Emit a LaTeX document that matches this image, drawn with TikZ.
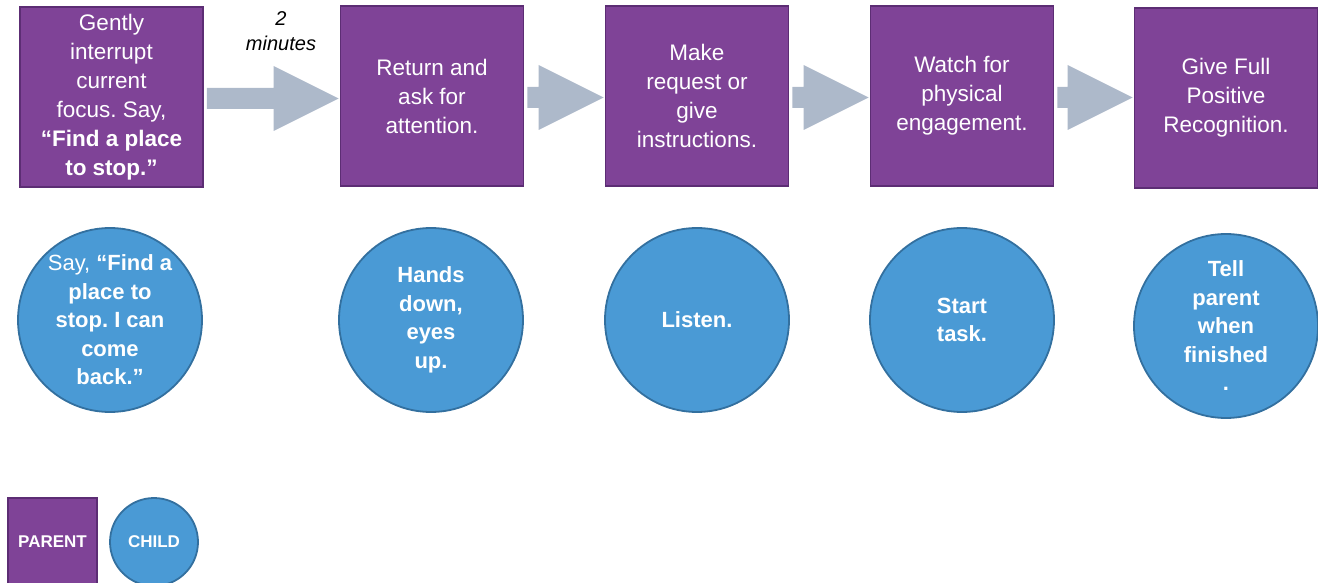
\documentclass[tikz,border=0pt]{standalone}
\usepackage{fontspec}
\setmainfont{Liberation Sans}
\usetikzlibrary{calc}
\frenchspacing
\definecolor{parentfill}{HTML}{7F4397}
\definecolor{parentline}{HTML}{5C2D74}
\definecolor{childfill}{HTML}{4A9AD5}
\definecolor{childline}{HTML}{33709F}
\definecolor{arrowgray}{HTML}{ADB9CA}
\tikzset{
  parentbox/.style={draw=parentline, fill=parentfill, line width=1.8pt,
    minimum width=183pt, minimum height=180pt, inner sep=0pt,
    text=white, align=center, font=\fontsize{22.5}{29}\selectfont},
  childdot/.style={circle, draw=childline, fill=childfill, line width=1.8pt,
    minimum size=184pt, inner sep=0pt,
    text=white, align=center, font=\fontsize{22}{28.5}\selectfont\bfseries},
  legendbox/.style={draw=parentline, fill=parentfill, line width=1.8pt,
    minimum width=89pt, minimum height=88pt, inner sep=0pt,
    text=white, font=\fontsize{17}{20}\selectfont\bfseries},
  legenddot/.style={circle, draw=childline, fill=childfill, line width=1.8pt,
    minimum size=88pt, inner sep=0pt,
    text=white, font=\fontsize{17}{20}\selectfont\bfseries},
  timelabel/.style={align=center, font=\fontsize{20}{25}\selectfont\itshape}
}
% block arrow from the right side of one box to the left side of the next
\newcommand\flowarrow[2]{%
  \fill[arrowgray] let \p1=($(#1.east)+(3,1.5)$), \p2=($(#2.west)+(-1,1.5)$) in
    (\x1,\y1-10.5) -- (\x2-65,\y1-10.5) -- (\x2-65,\y1-32.5) -- (\x2,\y1)
    -- (\x2-65,\y1+32.5) -- (\x2-65,\y1+10.5) -- (\x1,\y1+10.5) -- cycle;}
\begin{document}
\begin{tikzpicture}[x=1pt, y=-1pt]
\useasboundingbox (0,0) rectangle (1318,583);

% parent steps
\node[parentbox] (p1) at (111.5,97) {Gently\\interrupt\\current\\focus. Say,\\\textbf{“Find a place}\\\textbf{to stop.”}};
\node[parentbox] (p2) at (432,96) {Return and\\ask for\\attention.};
\node[parentbox] (p3) at (697,96) {Make\\request or\\give\\instructions.};
\node[parentbox] (p4) at (962,96) {Watch for\\physical\\engagement.};
\node[parentbox] (p5) at (1226,98) {Give Full\\Positive\\Recognition.};

% arrows between the steps
\flowarrow{p1}{p2}
\flowarrow{p2}{p3}
\flowarrow{p3}{p4}
\flowarrow{p4}{p5}
\node[timelabel] (wait) at (281,31.5) {2\\minutes};

% child responses
\node[childdot] (c1) at (110,320) {\mdseries Say, \bfseries“Find a\\place to\\stop. I can\\come\\back.”};
\node[childdot] (c2) at (431,320) {Hands\\down,\\eyes\\up.};
\node[childdot] (c3) at (697,320) {Listen.};
\node[childdot] (c4) at (962,320) {Start\\task.};
\node[childdot] (c5) at (1226,326) {Tell\\parent\\when\\finished\\.};

% legend
\node[legendbox] (lp) at (52.5,542) {PARENT};
\node[legenddot] (lc) at (154,542) {CHILD};
\end{tikzpicture}
\end{document}
